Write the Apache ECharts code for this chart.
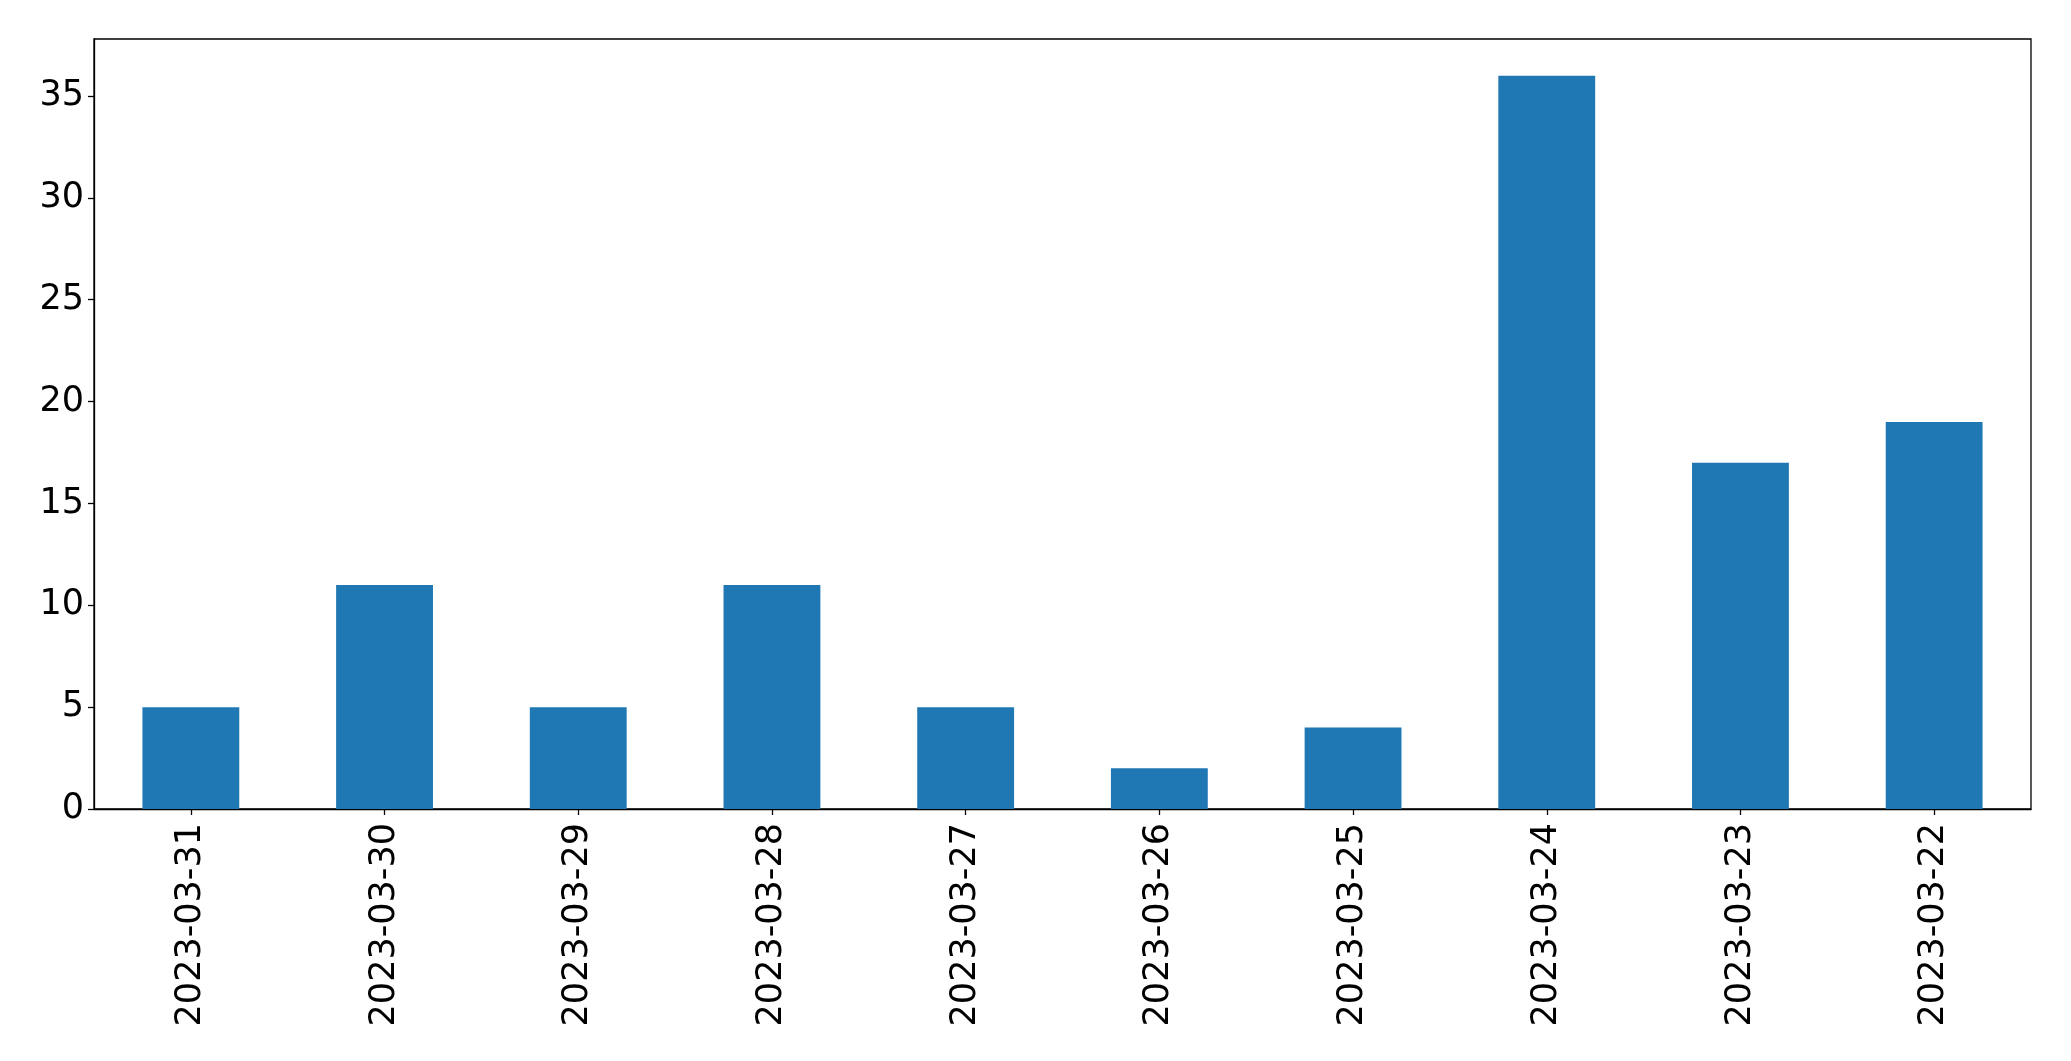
<!DOCTYPE html>
<html><head><meta charset="utf-8">
<script src="https://cdn.jsdelivr.net/npm/echarts@6/dist/echarts.min.js"></script>
<style>html,body{margin:0;padding:0;background:#fff}#c{width:2071px;height:1061px}</style>
</head><body><div id="c"></div>
<script>
const categories = ['2023-03-31','2023-03-30','2023-03-29','2023-03-28','2023-03-27','2023-03-26','2023-03-25','2023-03-24','2023-03-23','2023-03-22'];
const values = [5, 11, 5, 11, 5, 2, 4, 36, 17, 19];
const yTicks = [0, 5, 10, 15, 20, 25, 30, 35];

const chart = echarts.init(document.getElementById('c'), null, {renderer: 'canvas'});
const font = 'DejaVu Sans';
chart.setOption({
  animation: false,
  grid: {left: 94, right: 40, top: 39, bottom: 252, show: true, borderColor: '#000', borderWidth: 1.3, backgroundColor: 'transparent'},
  xAxis: {
    type: 'category', data: categories,
    axisLine: {show: true, lineStyle: {color: '#000', width: 1.3}},
    axisTick: {show: true, alignWithLabel: true, length: 6, lineStyle: {color: '#000', width: 1.3}},
    axisLabel: {rotate: 90, margin: 14, color: '#000', fontSize: 35, fontFamily: font, interval: 0},
    splitLine: {show: false}
  },
  yAxis: {
    type: 'value', min: 0, max: 37.8, interval: 5,
    axisLine: {show: true, lineStyle: {color: '#000', width: 1.3}},
    axisTick: {show: true, length: 6, lineStyle: {color: '#000', width: 1.3}},
    axisLabel: {margin: 10, color: '#000', fontSize: 35, fontFamily: font, showMaxLabel: false,
      formatter: v => yTicks.includes(v) ? String(v) : ''},
    splitLine: {show: false}
  },
  series: [{
    type: 'bar', data: values, barWidth: '50%',
    itemStyle: {color: '#1f77b4'}
  }]
});
</script></body></html>
